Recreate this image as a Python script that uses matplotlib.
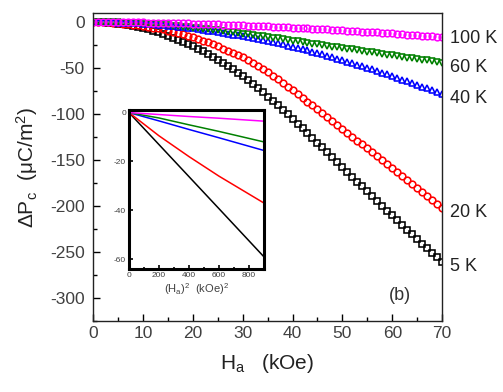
import matplotlib
matplotlib.use('Agg')
import matplotlib.pyplot as plt
from matplotlib.ticker import MultipleLocator

plt.rcParams['font.family'] = ['Liberation Sans', 'DejaVu Sans']
plt.rcParams['mathtext.fontset'] = 'custom'
plt.rcParams['mathtext.rm'] = 'Liberation Sans'
plt.rcParams['mathtext.it'] = 'Liberation Sans:italic'
plt.rcParams['mathtext.default'] = 'regular'
plt.rcParams['axes.unicode_minus'] = False

# field (kOe), one point per kOe
H = list(range(0, 71))

# delta P_c (uC/m^2)
p5K = [0, -0.07, -0.26, -0.6, -1.05, -1.6, -2.4, -3.2, -4.2, -5.3,
       -6.6, -7.9, -9.4, -11.1, -12.9, -14.8, -16.8, -19.0, -21.2, -23.7,
       -26.2, -28.9, -31.7, -34.7, -37.8, -41.0, -44.3, -47.8, -51.4, -55.1,
       -59.0, -63.0, -67.2, -72.0, -76.5, -81.0, -85.7, -90.5, -95.3, -100.2,
       -105.2, -110.3, -115.4, -120.6, -125.8, -131.0, -136.3, -141.6, -146.9, -152.2,
       -157.5, -162.8, -168.1, -173.4, -178.7, -184.0, -189.3, -194.6, -199.8, -205.0,
       -210.2, -215.3, -220.4, -225.5, -230.6, -235.7, -240.8, -245.9, -250.9, -255.9,
       -260.9]
p20K = [0, 0, -0.15, -0.35, -0.65, -1.0, -1.5, -2.0, -2.6, -3.3,
        -4.1, -5.0, -5.9, -6.9, -8.0, -9.2, -10.5, -11.9, -13.3, -14.8,
        -16.4, -18.2, -20.1, -22.1, -24.2, -26.4, -28.7, -31.0, -33.4, -35.8,
        -38.3, -41.0, -44.0, -47.4, -51.0, -54.6, -58.3, -62.1, -66.0, -70.0,
        -74.1, -78.2, -82.3, -86.4, -90.6, -94.8, -99.0, -103.2, -107.4, -111.6,
        -115.8, -120.1, -124.4, -128.7, -133.0, -137.3, -141.6, -145.9, -150.2, -154.5,
        -158.8, -163.1, -167.4, -171.7, -176.0, -180.3, -184.6, -188.9, -193.2, -197.5,
        -201.8]
p40K = [0, 0, -0.07, -0.15, -0.28, -0.43, -0.62, -0.84, -1.1, -1.4,
        -1.7, -2.1, -2.5, -2.9, -3.4, -3.9, -4.4, -5.0, -5.6, -6.2,
        -6.9, -7.6, -8.3, -9.1, -9.9, -10.8, -11.6, -12.5, -13.5, -14.5,
        -15.5, -16.5, -17.5, -18.6, -19.7, -20.8, -21.9, -23.1, -24.3, -25.5,
        -26.8, -28.1, -29.4, -30.8, -32.2, -33.6, -35.1, -36.6, -38.1, -39.7,
        -41.3, -42.9, -44.5, -46.2, -47.9, -49.6, -51.4, -53.2, -55.0, -56.8,
        -58.7, -60.6, -62.5, -64.4, -66.3, -68.2, -70.1, -72.0, -74.0, -76.0,
        -78.0]
p60K = [0, 0, -0.05, -0.12, -0.22, -0.35, -0.5, -0.7, -0.95, -1.2,
        -1.5, -1.8, -2.15, -2.5, -2.9, -3.3, -3.8, -4.3, -4.8, -5.4,
        -6.0, -6.6, -7.2, -7.8, -8.4, -9.0, -9.7, -10.4, -11.1, -11.8,
        -12.5, -13.2, -13.9, -14.6, -15.3, -16.1, -16.9, -17.7, -18.5, -19.3,
        -20.1, -20.9, -21.7, -22.5, -23.3, -24.1, -24.9, -25.7, -26.5, -27.3,
        -28.1, -28.9, -29.7, -30.5, -31.3, -32.1, -32.9, -33.7, -34.5, -35.3,
        -36.1, -36.9, -37.7, -38.5, -39.3, -40.1, -40.9, -41.7, -42.5, -43.3,
        -44.1]
p100K = [0, 0, 0, -0.03, -0.06, -0.1, -0.14, -0.19, -0.25, -0.32,
         -0.39, -0.47, -0.56, -0.66, -0.76, -0.88, -1.0, -1.13, -1.27, -1.41,
         -1.56, -1.72, -1.89, -2.06, -2.24, -2.43, -2.63, -2.83, -3.04, -3.26,
         -3.48, -3.7, -3.93, -4.16, -4.4, -4.64, -4.89, -5.14, -5.4, -5.66,
         -5.93, -6.2, -6.48, -6.76, -7.05, -7.34, -7.64, -7.94, -8.25, -8.56,
         -8.88, -9.2, -9.53, -9.86, -10.2, -10.54, -10.89, -11.24, -11.6, -11.96,
         -12.33, -12.7, -13.08, -13.46, -13.85, -14.24, -14.64, -15.04, -15.45, -15.86,
         -16.27]

# inset: delta P_c vs H^2 (kOe^2)
H2 = [0, 200, 400, 600, 900]
i5K = [0, -13.1, -26.2, -39.3, -59]
i20K = [0, -9.5, -18, -26, -37]
i40K = [0, -3.4, -6.9, -10.3, -15.5]
i60K = [0, -2.2, -5.0, -7.7, -12]
i100K = [0, -0.8, -1.6, -2.3, -3.5]

temps = ['5 K', '20 K', '40 K', '60 K', '100 K']
colors = ['black', 'red', 'blue', 'green', 'magenta']
markers = ['s', 'o', '^', 'v', 'o']
main_data = [p5K, p20K, p40K, p60K, p100K]
inset_data = [i5K, i20K, i40K, i60K, i100K]

grey = '#404040'
fig = plt.figure(figsize=(5.03, 3.92), dpi=100)
ax = fig.add_axes([0.185, 0.181, 0.694, 0.786])

for d, c, m in zip(main_data, colors, markers):
    ax.plot(H, d, linestyle='none', marker=m, markersize=4.8,
            markerfacecolor='none', markeredgecolor=c, markeredgewidth=1.15)

ax.set_xlim(0, 70)
ax.set_ylim(-325, 10)
ax.xaxis.set_major_locator(MultipleLocator(10))
ax.xaxis.set_minor_locator(MultipleLocator(5))
ax.yaxis.set_major_locator(MultipleLocator(50))
ax.yaxis.set_minor_locator(MultipleLocator(25))
ax.tick_params(which='both', direction='in', top=False, right=False,
               labelsize=12.5, labelcolor=grey, width=1.0)
ax.tick_params(axis='y', pad=6)
ax.tick_params(which='major', length=5)
ax.tick_params(which='minor', length=3)
for s in ax.spines.values():
    s.set_linewidth(1.0)
    s.set_color('#222222')

ax.set_xlabel('H$_a$   (kOe)', fontsize=15, color='#222222', labelpad=8)
ax.set_ylabel('$\\Delta$P$_c$  ($\\mu$C/m$^2$)', fontsize=15, color='#222222', labelpad=7)

# temperature labels on the right, at the end of each curve
label_offsets = [-3.5, -3.5, -3, -3.5, -1]
for d, t, off in zip(main_data, temps, label_offsets):
    ax.annotate(t, xy=(70, d[-1]), xytext=(6, off), textcoords='offset points',
                fontsize=13, color='#222222', va='center', ha='left',
                annotation_clip=False)

ax.text(61.6, -297, '(b)', fontsize=13, color='#333333', ha='center', va='center')

# inset
ins = fig.add_axes([0.2565, 0.314, 0.268, 0.405])
for d, c in zip(inset_data, colors):
    ins.plot(H2, d, color=c, linewidth=1.1)
ins.set_xlim(0, 900)
ins.set_ylim(-64, 1)
ins.xaxis.set_major_locator(MultipleLocator(200))
ins.xaxis.set_minor_locator(MultipleLocator(100))
ins.yaxis.set_major_locator(MultipleLocator(20))
ins.yaxis.set_minor_locator(MultipleLocator(10))
ins.tick_params(which='both', direction='in', top=False, right=False,
                labelsize=6, labelcolor=grey, width=1.2, pad=2)
ins.tick_params(which='major', length=3)
ins.tick_params(which='minor', length=1.5)
for s in ins.spines.values():
    s.set_linewidth(2.2)
ins.set_xlabel('(H$_a$)$^2$  (kOe)$^2$', fontsize=8, color=grey, labelpad=2)

fig.savefig('out.png', dpi=100)
